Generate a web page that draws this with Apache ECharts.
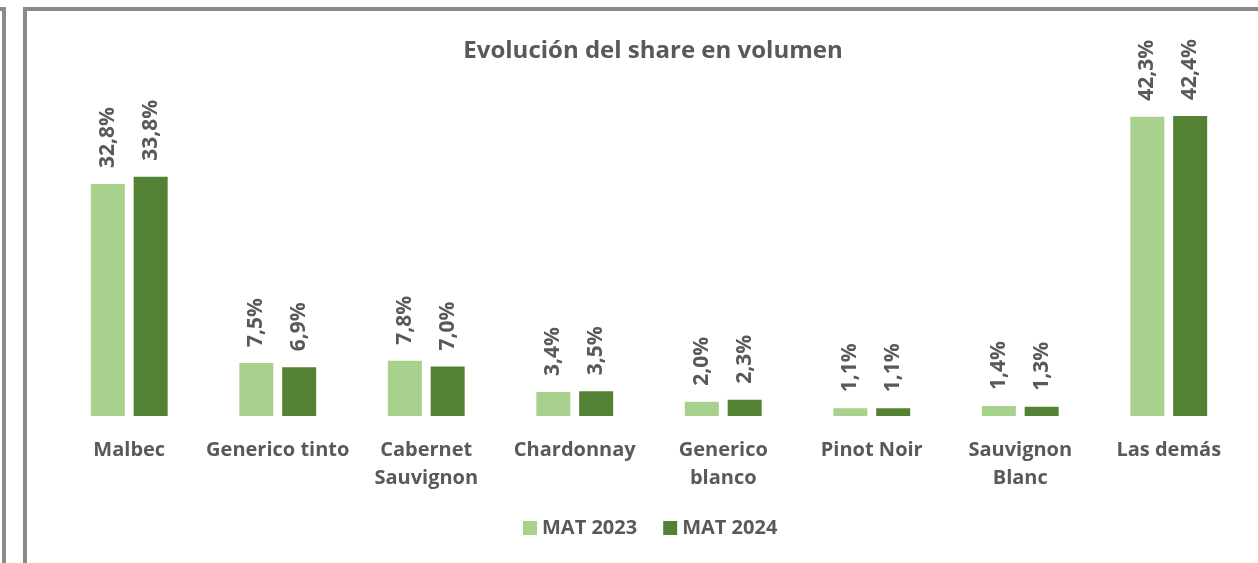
<!DOCTYPE html>
<html>
<head>
<meta charset="utf-8">
<script src="https://cdn.jsdelivr.net/npm/echarts@6/dist/echarts.min.js"></script>
<style>
  html, body { margin: 0; padding: 0; background: #fff; overflow: hidden; }
  #wrap { position: relative; width: 1258px; height: 563px; }
  .frame { position: absolute; border: 4px solid #8a8a8a; box-sizing: border-box; }
  #chart { position: absolute; left: 0; top: 0; width: 1258px; height: 563px; }
</style>
</head>
<body>
<div id="wrap">
  <div class="frame" style="left:-200px; top:7px; width:206px; height:700px;"></div>
  <div class="frame" style="left:23px; top:7px; width:1400px; height:700px;"></div>
  <div id="chart"></div>
</div>
<script>
const categories = ['Malbec', 'Generico tinto', 'Cabernet\nSauvignon', 'Chardonnay', 'Generico\nblanco', 'Pinot Noir', 'Sauvignon\nBlanc', 'Las demás'];
const mat2023 = [32.8, 7.5, 7.8, 3.4, 2.0, 1.1, 1.4, 42.3];
const mat2024 = [33.8, 6.9, 7.0, 3.5, 2.3, 1.1, 1.3, 42.4];
const seriesNames = ['MAT 2023', 'MAT 2024'];
const colors = ['#a9d18e', '#548235'];

const fontFamily = '"Open Sans", "Noto Sans", sans-serif';
const textColor = '#595959';

const chartDom = document.getElementById('chart');
const mychart = echarts.init(chartDom);

const labelOption = {
  show: true,
  position: 'top',
  rotate: 90,
  align: 'left',
  verticalAlign: 'middle',
  distance: 16,
  color: textColor,
  fontFamily: fontFamily,
  fontWeight: 'bold',
  fontSize: 21,
  formatter: function (p) {
    return p.value.toFixed(1).replace('.', ',') + '%';
  }
};

const option = {
  animation: false,
  title: {
    text: 'Evolución del share en volumen',
    left: 648,
    textAlign: 'center',
    top: 34,
    textStyle: {
      color: textColor,
      fontFamily: fontFamily,
      fontWeight: 'bold',
      fontSize: 24
    }
  },
  legend: {
    data: seriesNames,
    bottom: 20,
    left: 518,
    icon: 'rect',
    itemWidth: 14,
    itemHeight: 14,
    itemGap: 26,
    itemStyle: { borderWidth: 0 },
    textStyle: {
      color: textColor,
      fontFamily: fontFamily,
      fontWeight: 'bold',
      fontSize: 20
    }
  },
  grid: {
    left: 55,
    right: 15,
    top: 97.6,
    bottom: 147,
    containLabel: false
  },
  xAxis: {
    type: 'category',
    data: categories,
    axisLine: { show: false },
    axisTick: { show: false },
    axisLabel: {
      color: textColor,
      fontFamily: fontFamily,
      fontWeight: 'bold',
      fontSize: 20,
      lineHeight: 28,
      margin: 20,
      interval: 0
    }
  },
  yAxis: {
    type: 'value',
    min: 0,
    max: 45,
    show: false,
    splitLine: { show: false }
  },
  series: seriesNames.map(function (name, idx) {
    return {
      name: name,
      type: 'bar',
      data: idx === 0 ? mat2023 : mat2024,
      barWidth: 34,
      barGap: '26%',
      itemStyle: { color: colors[idx] },
      label: labelOption
    };
  })
};

mychart.setOption(option);
</script>
</body>
</html>
